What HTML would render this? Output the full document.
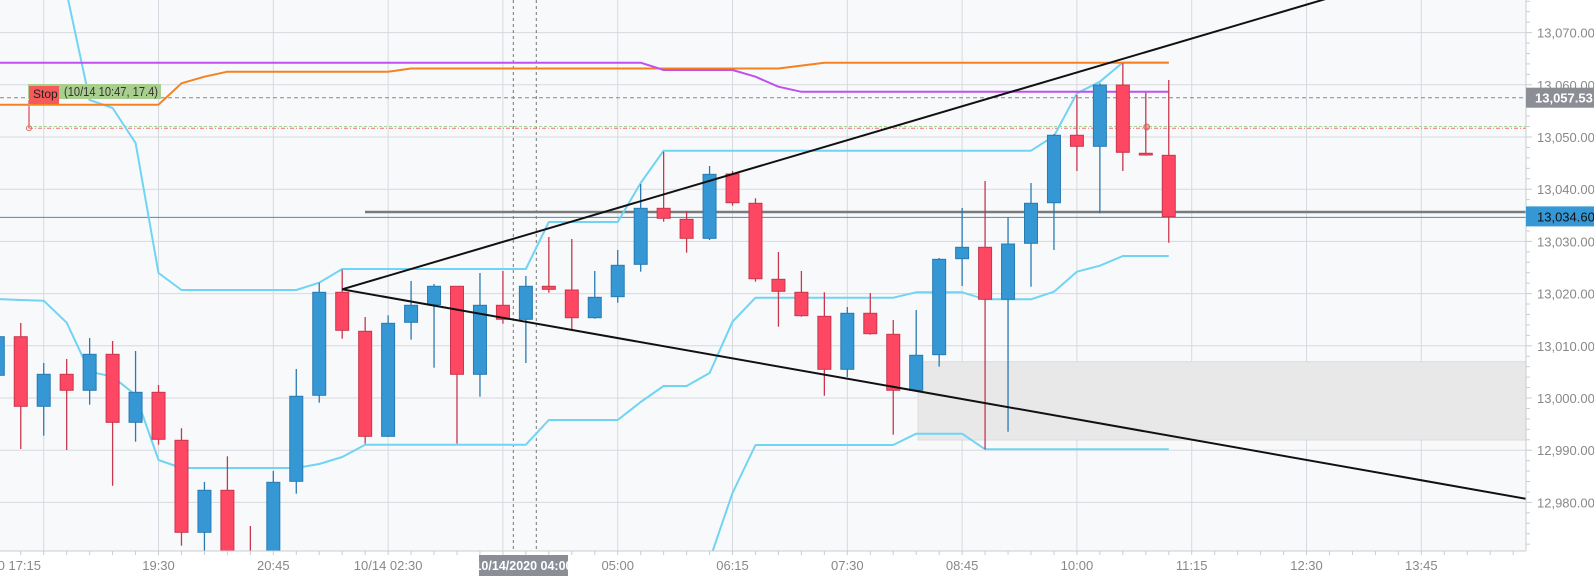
<!DOCTYPE html>
<html><head><meta charset="utf-8">
<style>
html,body{margin:0;padding:0;background:#fff;width:1594px;height:579px;overflow:hidden;}
svg{display:block;font-family:"Liberation Sans",sans-serif;overflow:hidden;}
</style></head>
<body>
<svg id="chart" width="1594" height="579" viewBox="0 0 1594 579" xmlns="http://www.w3.org/2000/svg">
<defs><clipPath id="plotclip"><rect x="0" y="0" width="1526" height="551"/></clipPath></defs>
<rect x="0" y="0" width="1594" height="579" fill="#ffffff"/>
<rect x="0" y="0" width="1526" height="551" fill="#f8f9fb"/>
<g id="grid"></g>
<g id="plot" clip-path="url(#plotclip)"></g>
<g id="axes"></g>
</svg>
<script>
const opens=[13004.35,13011.74,12998.41,13004.54,13001.48,13008.37,12995.34,13001.09,12991.90,12974.27,12982.32,12968.00,12967.00,12984.04,13000.52,13020.25,13012.78,12992.66,13014.50,13017.87,13021.40,13004.54,13017.76,13015.08,13021.40,13020.69,13015.38,13019.41,13025.61,13036.34,13034.23,13030.59,13042.91,13037.30,13022.74,13020.25,13015.65,13005.50,13016.23,13012.20,13001.48,13008.30,13026.69,13028.87,13018.91,13029.64,13037.41,13050.33,13048.22,13059.96,13046.88,13046.49];
const closes=[13011.74,12998.41,13004.54,13001.48,13008.37,12995.34,13001.09,12992.09,12974.27,12982.32,12969.00,12965.00,12983.85,13000.33,13020.25,13012.97,12992.66,13014.31,13017.76,13021.40,13004.54,13017.76,13015.08,13021.40,13020.82,13015.38,13019.29,13025.42,13036.34,13034.43,13030.59,13042.85,13037.41,13022.85,13020.44,13015.77,13005.50,13016.23,13012.32,13001.48,13008.18,13026.57,13028.87,13018.91,13029.50,13037.30,13050.33,13048.22,13059.96,13047.07,13046.55,13034.73];
const highs=[13013.03,13014.37,13006.70,13007.47,13011.49,13010.92,13009.00,13002.49,12994.20,12983.91,12988.83,12975.48,12986.02,13005.56,13022.09,13024.58,13015.52,13015.84,13022.41,13021.84,13021.46,13023.95,13024.33,13023.37,13030.84,13030.46,13024.33,13028.35,13041.00,13047.18,13035.82,13044.44,13043.49,13038.26,13027.97,13024.33,13020.25,13017.43,13020.11,13014.94,13016.86,13026.82,13036.40,13041.57,13034.62,13041.19,13050.57,13058.05,13060.29,13064.12,13058.49,13060.92];
const lows=[13003.45,12990.23,12992.78,12990.04,12998.72,12983.20,12991.63,12991.05,12971.70,12970.31,12967.00,12963.00,12965.00,12981.67,12999.10,13011.36,12991.25,12992.53,13011.17,13005.80,12991.25,13000.25,13014.23,13006.70,13020.17,13013.16,13015.19,13018.26,13024.20,13033.77,13027.84,13030.27,13036.84,13022.28,13013.66,13015.57,13000.44,13004.02,13012.13,12992.97,13001.34,13006.00,13021.46,12990.17,12993.54,13021.32,13028.35,13043.49,13035.38,13043.49,13046.42,13029.75];
const upperBand=[13095.4,13095.4,13095.4,13077.6,13057.1,13055.56,13048.85,13023.95,13020.69,13020.69,13020.69,13020.69,13020.69,13020.69,13022.09,13024.71,13024.71,13024.71,13024.71,13024.71,13024.71,13024.71,13024.71,13024.71,13033.72,13033.72,13033.72,13033.72,13041.19,13047.38,13047.38,13047.38,13047.38,13047.38,13047.38,13047.38,13047.38,13047.38,13047.38,13047.38,13047.38,13047.38,13047.38,13047.38,13047.38,13047.38,13050.19,13058.37,13060.59,13064.27,13064.27,13064.27];
const middleBand=[13018.97,13018.77,13018.64,13014.43,13005.04,13004.08,13000.57,12988.12,12986.59,12986.59,12986.59,12986.59,12986.59,12986.59,12987.36,12988.70,12991.05,12991.05,12991.05,12991.05,12991.05,12991.05,12991.05,12991.05,12995.79,12995.79,12995.79,12995.79,12999.23,13002.30,13002.30,13004.79,13014.62,13019.21,13019.21,13019.21,13019.21,13019.21,13019.21,13019.21,13020.25,13020.25,13020.25,13018.91,13018.91,13018.91,13020.36,13024.20,13025.34,13027.20,13027.20,13027.20];
const lowerBand=[12940,12940,12940,12940,12940,12940,12940,12940,12940,12940,12940,12940,12940,12940,12940,12940,12940,12940,12940,12940,12940,12940,12940,12940,12940,12940,12940,12940,12940,12940,12940,12968.97,12981.80,12991.00,12991.00,12991.00,12991.00,12991.00,12991.00,12991.00,12993.16,12993.16,12993.16,12990.17,12990.17,12990.17,12990.17,12990.17,12990.17,12990.17,12990.17,12990.17];
const orangeLine=[13056.19,13056.19,13056.19,13056.19,13056.19,13056.19,13056.19,13056.19,13060.29,13061.55,13062.51,13062.51,13062.51,13062.51,13062.51,13062.51,13062.51,13062.51,13063.12,13063.12,13063.12,13063.12,13063.12,13063.12,13063.12,13063.12,13063.12,13063.12,13063.12,13063.12,13063.12,13063.12,13063.12,13063.12,13063.12,13063.68,13064.23,13064.23,13064.23,13064.23,13064.23,13064.23,13064.23,13064.23,13064.23,13064.23,13064.23,13064.23,13064.23,13064.23,13064.23,13064.23];
const purpleLine=[13064.23,13064.23,13064.23,13064.23,13064.23,13064.23,13064.23,13064.23,13064.23,13064.23,13064.23,13064.23,13064.23,13064.23,13064.23,13064.23,13064.23,13064.23,13064.23,13064.23,13064.23,13064.23,13064.23,13064.23,13064.23,13064.23,13064.23,13064.23,13064.23,13062.84,13062.84,13062.84,13062.84,13061.55,13059.64,13058.66,13058.66,13058.66,13058.66,13058.66,13058.66,13058.66,13058.66,13058.66,13058.66,13058.66,13058.66,13058.66,13058.66,13058.66,13058.66,13058.66];
const priceTicks=[12980,12990,13000,13010,13020,13030,13040,13050,13060,13070];
const priceTickLabels=["12,980.00","12,990.00","13,000.00","13,010.00","13,020.00","13,030.00","13,040.00","13,050.00","13,060.00","13,070.00"];
const timeTickIndex=[2,7,12,17,22,27,32,37,42,47,52,57,62];
const timeTickLabels=["20 17:15","19:30","20:45","10/14 02:30","","05:00","06:15","07:30","08:45","10:00","11:15","12:30","13:45"];
const trendUpper=[[15,13020.82],[48.83,13064.75]];
const trendLower=[[15,13020.82],[50.62,12993.10]];
const zone=[40.08,13006.95,12991.95];
const resistanceLevel=13035.63, lastPrice=13034.60, crossPrice=13057.53, greenLevel=13052.01, redLevel=13051.67;

const NS="http://www.w3.org/2000/svg";
const X0=1526, Y0=551;
function xs(i){return -2.2+22.96*i;}
function ys(p){return 398-5.22*(p-13000);}
function mk(tag,attrs,parent){const e=document.createElementNS(NS,tag);for(const k in attrs)e.setAttribute(k,attrs[k]);parent.appendChild(e);return e;}
const grid=document.getElementById('grid'),plot=document.getElementById('plot'),axes=document.getElementById('axes');

priceTicks.forEach((p)=>{const l=mk('line',{x1:0,x2:X0,y1:ys(p),y2:ys(p),stroke:'#d6d9df','stroke-width':1},grid);

});
timeTickIndex.forEach((i)=>{const l=mk('line',{x1:xs(i),x2:xs(i),y1:0,y2:Y0,stroke:'#d6d9df','stroke-width':1},grid);

});

const z=mk('rect',{x:xs(zone[0]),y:ys(zone[1]),width:X0-xs(zone[0]),height:ys(zone[2])-ys(zone[1]),fill:'#e8e8e9',stroke:'#dcdcdc'},plot);



[513.3,536.3].forEach(x=>{const l=mk('line',{x1:x,x2:x,y1:0,y2:Y0,stroke:'#777','stroke-width':1,'stroke-dasharray':'3,3'},plot);

});

let e;
e=mk('line',{x1:0,x2:X0,y1:ys(crossPrice),y2:ys(crossPrice),stroke:'#888','stroke-dasharray':'4,3'},plot);


e=mk('line',{x1:29,x2:X0,y1:ys(greenLevel),y2:ys(greenLevel),stroke:'#a9d48f','stroke-dasharray':'3,2'},plot);


e=mk('line',{x1:29,x2:X0,y1:ys(redLevel),y2:ys(redLevel),stroke:'#f07070','stroke-dasharray':'4,2,1,2'},plot);


e=mk('line',{x1:0,x2:X0,y1:ys(lastPrice),y2:ys(lastPrice),stroke:'#3a8fc8','stroke-width':1},plot);


e=mk('line',{x1:365,x2:X0,y1:ys(resistanceLevel),y2:ys(resistanceLevel),stroke:'#7a7a7a','stroke-width':2.5},plot);



function poly(arr,color,name){const pts=arr.map((v,i)=>xs(i).toFixed(1)+','+ys(v).toFixed(1)).join(' ');
const p=mk('polyline',{points:pts,fill:'none',stroke:color,'stroke-width':2,'stroke-linejoin':'round'},plot);

}
poly(upperBand,'#70d4f2','upper-band');
poly(middleBand,'#70d4f2','middle-band');
poly(lowerBand,'#70d4f2','lower-band');
poly(orangeLine,'#f5821f','orange-line');
poly(purpleLine,'#c150f0','purple-line');

for(let i=0;i<opens.length;i++){
  const up=closes[i]>=opens[i];
  const fill=up?'#3598d4':'#fd4763', st=up?'#2a7ab2':'#c8374d';
  const g=mk('g',{},plot);
  
  
  const x=xs(i);
  const w=mk('line',{x1:x,x2:x,y1:ys(highs[i]),y2:ys(lows[i]),stroke:st,'stroke-width':1.3},g);
  
  
  const top=ys(Math.max(opens[i],closes[i])), bot=ys(Math.min(opens[i],closes[i]));
  const b=mk('rect',{x:x-6.5,y:top,width:13,height:Math.max(bot-top,1.5),fill:fill,stroke:st,'stroke-width':1},g);
  
  
}

function trend(t,name){const [a,b]=t;const x1=xs(a[0]),y1=ys(a[1]),x2=xs(b[0]),y2=ys(b[1]);
const s=(y2-y1)/(x2-x1);const xe=X0;const ye=y1+s*(xe-x1);
const l=mk('line',{x1:x1,y1:y1,x2:xe,y2:ye,stroke:'#111','stroke-width':2},plot);

}
trend(trendUpper,'upper-trendline');
trend(trendLower,'lower-trendline');

e=mk('circle',{cx:1146.7,cy:ys(greenLevel)+0.5,r:3,fill:'rgba(240,110,110,0.6)',stroke:'rgba(200,80,80,0.7)'},plot);



e=mk('line',{x1:29,x2:29,y1:100,y2:ys(redLevel),stroke:'#e89090','stroke-width':2},plot);


e=mk('circle',{cx:29,cy:ys(redLevel),r:2.5,fill:'none',stroke:'#e07070'},plot);


e=mk('rect',{x:28,y:84,width:133,height:15,fill:'#a8cf8e'},plot);


e=mk('text',{x:64,y:96,'font-size':12.5,fill:'#333',textLength:94,lengthAdjust:'spacingAndGlyphs'},plot);
e.textContent='(10/14 10:47, 17.4)';


e=mk('rect',{x:29,y:86,width:30,height:18,fill:'#f55a5a'},plot);


e=mk('text',{x:33,y:98,'font-size':12,fill:'#222'},plot);
e.textContent='Stop';



e=mk('line',{x1:X0,x2:X0,y1:0,y2:Y0,stroke:'#c8ccd2'},axes);


e=mk('line',{x1:0,x2:X0,y1:Y0,y2:Y0,stroke:'#c8ccd2'},axes);


for(let p=12972;p<=13076;p+=2){const t=mk('line',{x1:X0,x2:X0+(p%10===0?6:4),y1:ys(p),y2:ys(p),stroke:'#c8ccd2'},axes);

}
priceTicks.forEach((p,k)=>{const t=mk('text',{x:1537,y:ys(p)+5,'font-size':13,fill:'#888'},axes);t.textContent=priceTickLabels[k];

});
for(let i=0;i<=66;i++){const t=mk('line',{x1:xs(i),x2:xs(i),y1:Y0,y2:Y0+4,stroke:'#c8ccd2'},axes);

}
timeTickIndex.forEach((i,k)=>{if(!timeTickLabels[k])return;const first=k===0;
const t=mk('text',{x:first?41:xs(i),y:570,'font-size':13,fill:'#888','text-anchor':first?'end':'middle'},axes);t.textContent=timeTickLabels[k];

});
e=mk('rect',{x:479,y:555,width:89,height:21,fill:'#8b8e95'},axes);


e=mk('text',{x:523.5,y:570,'font-size':12.5,'font-weight':'bold',fill:'#fff','text-anchor':'middle'},axes);
e.textContent='10/14/2020 04:00';


e=mk('rect',{x:X0,y:ys(crossPrice)-10,width:68,height:20,fill:'#8b8e95'},axes);


e=mk('text',{x:1535,y:ys(crossPrice)+5,'font-size':13,'font-weight':'bold',fill:'#fff'},axes);
e.textContent='13,057.53';


e=mk('rect',{x:X0,y:ys(lastPrice)-11,width:68,height:20,fill:'#3597d3'},axes);


e=mk('text',{x:1537,y:ys(lastPrice)+4,'font-size':13,fill:'#111'},axes);
e.textContent='13,034.60';


</script>
</body></html>
